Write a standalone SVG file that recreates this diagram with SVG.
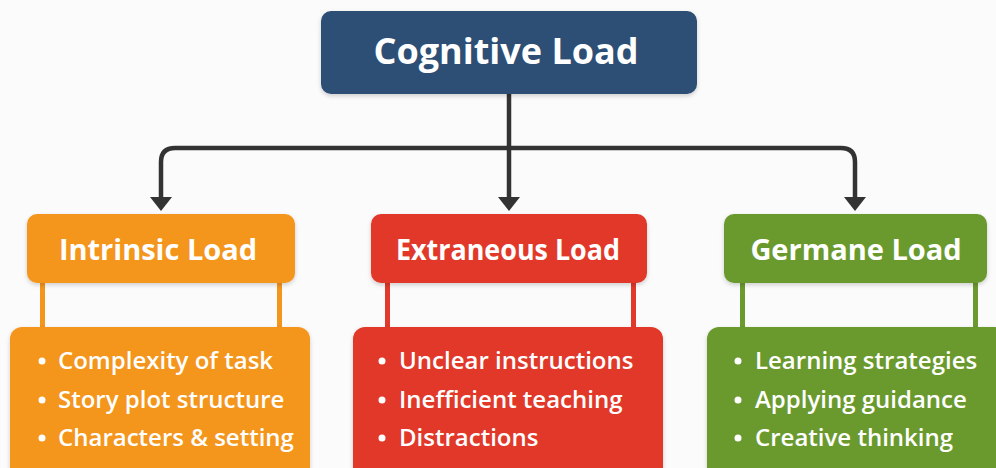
<svg xmlns="http://www.w3.org/2000/svg" width="996" height="468" viewBox="0 0 996 468">
<defs>
<filter id="sh" x="-10%" y="-10%" width="120%" height="130%">
<feDropShadow dx="0" dy="2" stdDeviation="2" flood-color="#000" flood-opacity="0.18"/>
</filter>
</defs>
<style>
.t{font-family:"Open Sans","Noto Sans","DejaVu Sans",sans-serif;font-weight:700;fill:#fff}
.h{font-size:29px;text-anchor:middle}
.b{font-size:24px;font-weight:600}
.c{fill:none;stroke:#333;stroke-width:4.5;stroke-linejoin:round}
.ah{fill:#333}
.or{fill:#f4951c}.rd{fill:#e1392b}.gr{fill:#6b9a2f}
</style>
<rect width="996" height="468" fill="#fbfbfb"/>
<g id="connectors">
<path class="c" d="M509 94 V200"/>
<path class="c" d="M509 148 H175 Q161 148 161 162 V200"/>
<path class="c" d="M509 148 H841 Q855 148 855 162 V200"/>
<path class="ah" d="M498 197 H520 L509 211 Z"/>
<path class="ah" d="M150 197 H172 L161 211 Z"/>
<path class="ah" d="M844 197 H866 L855 211 Z"/>
</g>
<g id="cognitive-load">
<rect x="321" y="11" width="376" height="83" rx="10" fill="#2f4f74" filter="url(#sh)"/>
<text class="t" x="506" y="64" font-size="36" text-anchor="middle">Cognitive Load</text>
</g>
<g id="intrinsic-load">
<rect class="or" x="40" y="280" width="5" height="50"/>
<rect class="or" x="277" y="280" width="5" height="50"/>
<rect class="or" x="27" y="214" width="268" height="69" rx="10" filter="url(#sh)"/>
<text class="t h" x="158" y="260">Intrinsic Load</text>
<rect class="or" x="10" y="327" width="300" height="160" rx="12" filter="url(#sh)"/>
<g class="t b">
<circle cx="42" cy="361" r="3.5" fill="#fff"/><text x="58" y="369">Complexity of task</text>
<circle cx="42" cy="400" r="3.5" fill="#fff"/><text x="58" y="408">Story plot structure</text>
<circle cx="42" cy="438" r="3.5" fill="#fff"/><text x="58" y="446">Characters &amp; setting</text>
</g>
</g>
<g id="extraneous-load">
<rect class="rd" x="385" y="280" width="5" height="50"/>
<rect class="rd" x="631" y="280" width="5" height="50"/>
<rect class="rd" x="371" y="214" width="276" height="69" rx="10" filter="url(#sh)"/>
<text class="t h" x="508" y="260" textLength="224" lengthAdjust="spacingAndGlyphs">Extraneous Load</text>
<rect class="rd" x="353" y="327" width="310" height="160" rx="12" filter="url(#sh)"/>
<g class="t b">
<circle cx="382" cy="361" r="3.5" fill="#fff"/><text x="399" y="369">Unclear instructions</text>
<circle cx="382" cy="400" r="3.5" fill="#fff"/><text x="399" y="408">Inefficient teaching</text>
<circle cx="382" cy="438" r="3.5" fill="#fff"/><text x="399" y="446">Distractions</text>
</g>
</g>
<g id="germane-load">
<rect class="gr" x="740" y="280" width="5" height="50"/>
<rect class="gr" x="973" y="280" width="5" height="50"/>
<rect class="gr" x="724" y="214" width="263" height="69" rx="10" filter="url(#sh)"/>
<text class="t h" x="856" y="260">Germane Load</text>
<rect class="gr" x="707" y="327" width="300" height="160" rx="12" filter="url(#sh)"/>
<g class="t b">
<circle cx="738" cy="361" r="3.5" fill="#fff"/><text x="755" y="369">Learning strategies</text>
<circle cx="738" cy="400" r="3.5" fill="#fff"/><text x="755" y="408">Applying guidance</text>
<circle cx="738" cy="438" r="3.5" fill="#fff"/><text x="755" y="446">Creative thinking</text>
</g>
</g>
</svg>
